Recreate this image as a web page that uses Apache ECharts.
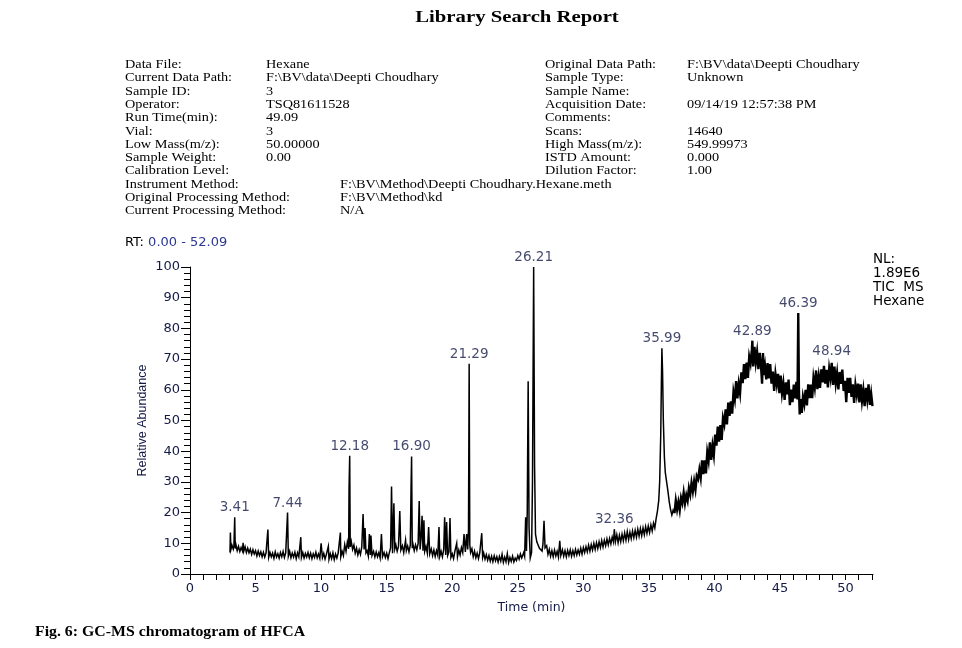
<!DOCTYPE html>
<html>
<head>
<meta charset="utf-8">
<script src="https://cdn.jsdelivr.net/npm/echarts@6/dist/echarts.min.js"></script>
<style>
html,body{margin:0;padding:0;background:#fff;}
#c{width:962px;height:648px;}
</style>
</head>
<body>
<div id="c"></div>
<script>
// ---- Data (time in min, relative abundance %) ----
// Early part: baseline with sharp peaks (3 - 37 min)
const ticEarly = [
[3.05,7.0],[3.08,13.5],[3.12,8.0],[3.2,9.4],[3.3,8.1],[3.35,9.2],[3.41,18.5],[3.45,8.3],[3.5,9.6],[3.6,7.6],[3.7,9.0],[3.8,7.3],[3.9,8.6],[4.0,7.5],[4.05,10.2],[4.1,7.4],[4.2,8.9],[4.3,7.0],[4.4,8.4],[4.5,6.9],[4.6,8.1],[4.7,6.4],[4.8,7.9],[4.9,6.5],[5.0,7.6],[5.1,5.9],[5.2,7.5],[5.3,6.0],[5.4,7.2],[5.5,5.6],[5.6,7.1],[5.7,5.5],[5.8,6.9],[5.94,14.5],[6.0,5.4],[6.1,7.0],[6.2,5.6],[6.3,6.8],[6.4,5.1],[6.5,7.2],[6.6,5.5],[6.7,6.6],[6.8,5.2],[6.9,7.0],[7.0,5.6],[7.1,7.3],[7.2,5.4],[7.3,6.9],[7.44,20.0],[7.5,5.8],[7.6,7.4],[7.7,5.3],[7.8,6.8],[7.9,5.5],[8.0,7.1],[8.1,5.0],[8.2,6.9],[8.3,5.6],[8.45,12.0],[8.5,5.4],[8.6,7.0],[8.7,5.2],[8.8,6.7],[8.9,5.5],[9.0,7.0],[9.1,5.3],[9.2,6.8],[9.3,5.0],[9.4,6.6],[9.5,5.4],[9.6,7.1],[9.7,5.2],[9.8,6.5],[9.9,5.1],[10.0,10.0],[10.1,5.3],[10.2,6.7],[10.3,4.9],[10.4,6.4],[10.55,9.0],[10.6,4.8],[10.7,6.6],[10.8,5.0],[10.9,6.9],[11.0,4.7],[11.1,6.5],[11.2,5.2],[11.3,6.8],[11.47,13.5],[11.5,5.6],[11.6,7.4],[11.7,6.0],[11.8,9.6],[11.9,7.4],[12.0,10.4],[12.1,8.2],[12.13,28.0],[12.18,38.5],[12.22,8.8],[12.3,10.6],[12.4,8.0],[12.5,9.4],[12.6,6.8],[12.7,8.4],[12.8,6.2],[12.9,7.9],[13.0,6.4],[13.1,8.8],[13.2,19.5],[13.28,8.0],[13.35,15.0],[13.42,6.9],[13.5,7.6],[13.6,5.8],[13.68,13.0],[13.75,6.2],[13.8,12.5],[13.88,6.0],[14.0,7.4],[14.1,5.5],[14.2,7.2],[14.3,5.6],[14.4,6.9],[14.5,5.2],[14.6,13.0],[14.68,5.6],[14.8,7.0],[14.9,5.4],[15.0,6.8],[15.1,5.0],[15.2,6.9],[15.3,8.5],[15.37,28.5],[15.45,6.8],[15.55,23.0],[15.62,8.2],[15.7,9.5],[15.8,7.4],[15.9,9.0],[16.0,20.5],[16.08,7.8],[16.2,9.2],[16.3,7.0],[16.44,11.0],[16.5,7.6],[16.6,9.1],[16.7,7.2],[16.8,9.4],[16.86,28.5],[16.90,38.3],[16.95,8.4],[17.0,9.8],[17.1,7.6],[17.2,9.5],[17.3,7.9],[17.4,10.0],[17.48,23.8],[17.55,8.0],[17.62,11.5],[17.7,19.0],[17.77,7.6],[17.84,17.5],[17.9,7.4],[18.0,9.0],[18.1,6.8],[18.2,15.3],[18.28,6.5],[18.4,8.2],[18.5,6.0],[18.6,7.8],[18.7,5.7],[18.8,7.6],[18.9,6.0],[18.99,15.3],[19.05,5.8],[19.15,7.4],[19.25,5.6],[19.35,8.0],[19.42,18.5],[19.5,6.2],[19.57,16.9],[19.65,6.0],[19.75,7.2],[19.83,18.2],[19.9,5.4],[20.0,6.6],[20.1,5.0],[20.2,7.4],[20.34,10.0],[20.4,5.6],[20.5,7.8],[20.6,6.2],[20.7,8.6],[20.8,7.0],[20.9,13.0],[21.0,7.2],[21.1,13.0],[21.18,8.0],[21.24,14.5],[21.29,68.5],[21.34,9.5],[21.4,7.0],[21.5,8.2],[21.6,5.6],[21.7,7.4],[21.8,5.3],[21.9,6.8],[22.0,5.0],[22.1,7.0],[22.25,13.3],[22.32,5.4],[22.4,6.8],[22.5,4.8],[22.6,6.3],[22.7,4.5],[22.8,6.0],[22.9,4.2],[23.0,5.8],[23.1,4.0],[23.2,5.9],[23.3,4.3],[23.4,5.6],[23.5,3.9],[23.6,5.7],[23.7,4.2],[23.8,6.4],[23.9,3.8],[24.0,5.5],[24.1,4.0],[24.2,6.6],[24.3,3.7],[24.4,5.4],[24.5,4.1],[24.6,5.8],[24.7,3.9],[24.8,5.2],[24.9,4.4],[25.0,6.0],[25.1,4.8],[25.2,6.5],[25.3,5.2],[25.45,7.0],[25.52,5.8],[25.6,18.5],[25.66,7.5],[25.72,20.0],[25.79,62.8],[25.86,15.0],[25.95,5.2],[26.05,7.0],[26.12,30.0],[26.21,100],[26.28,35.0],[26.35,13.0],[26.45,10.5],[26.55,11.0],[26.65,8.4],[26.75,9.0],[26.85,7.5],[26.92,9.8],[27.0,17.3],[27.08,8.5],[27.2,9.2],[27.3,6.4],[27.4,8.0],[27.5,5.8],[27.6,7.6],[27.7,5.6],[27.8,7.8],[27.9,5.9],[28.0,7.4],[28.1,5.5],[28.2,10.8],[28.28,6.0],[28.4,7.9],[28.5,5.8],[28.6,7.6],[28.7,5.6],[28.8,7.7],[28.9,6.0],[29.0,7.9],[29.1,5.8],[29.2,7.6],[29.3,6.0],[29.4,8.0],[29.5,6.2],[29.6,7.8],[29.7,6.4],[29.8,8.4],[29.9,6.5],[30.0,8.6],[30.1,7.0],[30.2,8.9],[30.3,7.2],[30.4,9.4],[30.5,7.4],[30.6,9.6],[30.7,7.8],[30.8,10.0],[30.9,8.0],[31.0,10.2],[31.1,8.3],[31.2,10.5],[31.3,8.6],[31.4,10.9],[31.5,8.8],[31.6,11.0],[31.7,9.2],[31.8,11.4],[31.9,9.5],[32.0,11.6],[32.1,9.8],[32.2,12.0],[32.3,10.4],[32.36,14.6],[32.45,10.6],[32.55,12.8],[32.65,10.2],[32.75,12.6],[32.85,10.5],[32.95,13.0],[33.05,10.8],[33.15,13.4],[33.25,11.0],[33.35,13.8],[33.45,11.2],[33.55,13.6],[33.65,11.5],[33.75,14.0],[33.85,11.8],[33.95,14.2],[34.05,12.0],[34.15,14.6],[34.25,12.3],[34.35,14.8],[34.45,12.5],[34.55,15.0],[34.65,12.8],[34.75,15.4],[34.85,13.2],[34.95,15.6],[35.05,13.5],[35.15,16.0],[35.25,14.0],[35.35,16.6],[35.45,15.0],[35.55,18.0],[35.65,20.5],[35.75,24.0],[35.82,30.0],[35.9,45.0],[35.95,62.0],[35.99,73.5],[36.04,66.0],[36.1,50.0],[36.18,38.0],[36.25,33.0],[36.35,30.0],[36.45,27.0],[36.55,23.5],[36.65,21.0],[36.75,19.2],[36.85,20.8],[36.95,19.8]
];
// Late part: broad rising hump with noise (37 - 52.09 min)
const ticLate = [
[36.95,19.8],[37.05,23.9],[37.15,21.0],[37.25,23.5],[37.35,20.8],[37.45,24.8],[37.55,23.1],[37.65,26.5],[37.75,23.0],[37.85,25.7],[37.95,23.9],[38.05,28.0],[38.15,25.9],[38.25,29.7],[38.35,26.9],[38.45,30.2],[38.55,27.5],[38.65,31.9],[38.75,30.9],[38.85,34.0],[38.95,31.3],[39.05,37.0],[39.15,32.5],[39.25,37.0],[39.35,32.8],[39.45,39.7],[39.55,37.0],[39.65,42.9],[39.75,37.2],[39.85,41.8],[39.95,38.7],[40.05,45.4],[40.15,41.8],[40.25,48.0],[40.35,43.1],[40.45,48.5],[40.55,43.7],[40.65,50.8],[40.75,48.8],[40.85,53.6],[40.95,48.7],[41.05,55.8],[41.15,51.5],[41.25,56.2],[41.35,52.2],[41.45,59.3],[41.55,56.8],[41.65,62.8],[41.75,57.2],[41.85,61.9],[41.95,58.9],[42.05,65.7],[42.15,62.2],[42.25,68.4],[42.35,63.5],[42.45,68.9],[42.55,63.9],[42.65,70.8],[42.75,68.6],[42.85,73.0],[42.89,76.0],[42.95,67.6],[43.05,74.0],[43.15,68.9],[43.25,72.3],[43.35,66.7],[43.45,72.0],[43.55,67.7],[43.63,62.0],[43.7,72.0],[43.75,64.8],[43.85,67.9],[43.95,63.4],[44.05,68.7],[44.15,63.7],[44.25,68.4],[44.35,62.0],[44.45,65.9],[44.55,59.6],[44.65,65.2],[44.75,61.8],[44.85,65.2],[44.95,58.9],[45.05,64.6],[45.15,58.9],[45.25,62.1],[45.35,56.7],[45.45,62.4],[45.55,58.5],[45.65,63.3],[45.75,55.0],[45.85,60.1],[45.95,56.0],[46.05,61.7],[46.15,57.2],[46.25,62.6],[46.33,56.9],[46.39,85.0],[46.44,60.0],[46.5,52.0],[46.58,57.0],[46.66,52.5],[46.75,57.7],[46.85,55.4],[46.95,60.0],[47.05,54.9],[47.15,61.8],[47.25,57.3],[47.35,61.7],[47.45,57.3],[47.55,63.9],[47.65,60.8],[47.75,66.3],[47.85,60.2],[47.95,64.3],[48.05,60.6],[48.15,66.7],[48.25,62.4],[48.35,67.8],[48.45,62.0],[48.55,66.5],[48.65,60.8],[48.75,66.9],[48.85,63.9],[48.94,68.8],[49.05,61.6],[49.15,67.6],[49.25,62.1],[49.35,65.5],[49.45,60.1],[49.55,65.8],[49.65,61.9],[49.75,66.6],[49.85,59.6],[49.95,62.9],[50.05,56.0],[50.15,63.9],[50.25,59.0],[50.35,63.9],[50.45,57.7],[50.55,61.8],[50.65,55.7],[50.75,61.6],[50.85,58.4],[50.95,62.0],[51.05,55.9],[51.15,61.8],[51.25,56.4],[51.35,59.9],[51.45,54.7],[51.55,60.6],[51.65,56.9],[51.75,61.8],[51.85,55.1],[51.95,58.7],[52.05,54.7]
];

// Labelled peaks: retention time and the height where its label sits
const peakTimes = [3.41, 7.44, 12.18, 16.90, 21.29, 26.21, 32.36, 35.99, 42.89, 46.39, 48.94];
const peakTops  = [18.5, 20.0, 38.5, 38.3, 68.5, 100, 14.6, 73.5, 76.0, 85.0, 69.5];

// Report header text
const headerLeft = [
  ["Data File:", "Hexane"],
  ["Current Data Path:", "F:\\BV\\data\\Deepti Choudhary"],
  ["Sample ID:", "3"],
  ["Operator:", "TSQ81611528"],
  ["Run Time(min):", "49.09"],
  ["Vial:", "3"],
  ["Low Mass(m/z):", "50.00000"],
  ["Sample Weight:", "0.00"],
  ["Calibration Level:", ""]
];
const headerLeftWide = [
  ["Instrument Method:", "F:\\BV\\Method\\Deepti Choudhary.Hexane.meth"],
  ["Original Processing Method:", "F:\\BV\\Method\\kd"],
  ["Current Processing Method:", "N/A"]
];
const headerRight = [
  ["Original Data Path:", "F:\\BV\\data\\Deepti Choudhary"],
  ["Sample Type:", "Unknown"],
  ["Sample Name:", ""],
  ["Acquisition Date:", "09/14/19 12:57:38 PM"],
  ["Comments:", ""],
  ["Scans:", "14640"],
  ["High Mass(m/z):", "549.99973"],
  ["ISTD Amount:", "0.000"],
  ["Dilution Factor:", "1.00"]
];
const nlLines = ["NL:", "1.89E6", "TIC  MS", "Hexane"];

// ---- Build ----
const chart = echarts.init(document.getElementById('c'), null, {renderer: 'canvas'});
const navy = '#141a48';
const serif = "'Liberation Serif','Times New Roman',serif";
const sans = "'DejaVu Sans',sans-serif";

const graphics = [];
function txt(x, y, s, opt) {
  opt = opt || {};
  graphics.push({
    type: 'text', x: x, y: y, scaleX: opt.scaleX || 1, z: 10,
    style: {
      text: s, fill: opt.fill || '#000',
      font: opt.font || ('12px ' + serif),
      textVerticalAlign: 'middle', verticalAlign: 'middle',
      textAlign: opt.align || 'left', align: opt.align || 'left'
    }
  });
}
const rowY0 = 65, rowStep = 13.27, hdrScale = 1.19;
headerLeft.forEach((r, i) => {
  txt(125, rowY0 + i * rowStep, r[0], {scaleX: hdrScale});
  txt(266, rowY0 + i * rowStep, r[1], {scaleX: hdrScale});
});
headerLeftWide.forEach((r, i) => {
  const k = headerLeft.length + i;
  txt(125, rowY0 + k * rowStep, r[0], {scaleX: hdrScale});
  txt(340, rowY0 + k * rowStep, r[1], {scaleX: hdrScale});
});
headerRight.forEach((r, i) => {
  txt(545, rowY0 + i * rowStep, r[0], {scaleX: hdrScale});
  txt(687, rowY0 + i * rowStep, r[1], {scaleX: hdrScale});
});
// Title
graphics.push({
  type: 'text', x: 517, y: 18, scaleX: 1.22, z: 10,
  style: {text: 'Library Search Report', fill: '#000', font: 'bold 17px ' + serif,
          align: 'center', verticalAlign: 'middle', textAlign: 'center', textVerticalAlign: 'middle'}
});
// Caption
txt(35, 632, 'Fig. 6: GC-MS chromatogram of HFCA', {font: 'bold 15.5px ' + serif, scaleX: 1.02});
// RT range
graphics.push({
  type: 'text', x: 125, y: 243, z: 10,
  style: {
    text: '{a|RT:} {b|0.00 - 52.09}',
    rich: {a: {fill: '#000', font: '13px ' + sans}, b: {fill: '#2b3790', font: '13px ' + sans}},
    font: '13px ' + sans, verticalAlign: 'middle', textVerticalAlign: 'middle'
  }
});
// NL block
nlLines.forEach((s, i) => txt(873, 259 + i * 14, s, {font: '13.5px ' + sans, fill: '#000'}));

const option = {
  animation: false,
  backgroundColor: '#ffffff',
  grid: {left: 190, top: 267, width: 683, height: 307, containLabel: false},
  xAxis: {
    type: 'value', min: 0, max: 52.09, interval: 1,
    name: 'Time (min)', nameLocation: 'middle', nameGap: 27,
    nameTextStyle: {fontFamily: 'DejaVu Sans', fontSize: 12.5, color: navy},
    axisLine: {show: true, onZero: false, lineStyle: {color: '#000', width: 1}},
    axisTick: {show: true, length: 6, lineStyle: {color: '#000', width: 1}},
    axisLabel: {
      fontFamily: 'DejaVu Sans', fontSize: 13, color: navy, margin: 8,
      showMaxLabel: false, showMinLabel: true,
      formatter: function (v) { return Math.abs(v / 5 - Math.round(v / 5)) < 1e-6 ? String(Math.round(v)) : ''; }
    },
    splitLine: {show: false}
  },
  yAxis: {
    type: 'value', min: 0, max: 100, interval: 10,
    name: 'Relative Abundance', nameLocation: 'middle', nameGap: 41, nameRotate: 90,
    nameMoveOverlap: false,
    nameTextStyle: {fontFamily: 'Liberation Sans', fontSize: 12.5, color: navy},
    axisLine: {show: true, onZero: false, lineStyle: {color: '#000', width: 1}},
    axisTick: {show: true, length: 9, lineStyle: {color: '#000', width: 1}},
    minorTick: {show: true, splitNumber: 5, length: 6, lineStyle: {color: '#000', width: 1}},
    axisLabel: {fontFamily: 'DejaVu Sans', fontSize: 13, color: navy, margin: 10},
    splitLine: {show: false}
  },
  series: [
    {
      type: 'line', data: ticEarly, showSymbol: false, symbol: 'none', sampling: null,
      lineStyle: {color: '#000', width: 1.5, join: 'miter'}, z: 2, silent: true
    },
    {
      type: 'line', data: ticLate, showSymbol: false, symbol: 'none', sampling: null,
      lineStyle: {color: '#000', width: 2.4, join: 'miter'}, z: 2, silent: true
    },
    {
      type: 'scatter', symbolSize: 1, z: 3, silent: true,
      itemStyle: {color: 'rgba(0,0,0,0)'},
      data: peakTimes.map((t, i) => [t, peakTops[i]]),
      label: {
        show: true, position: 'top', distance: 2,
        fontFamily: 'DejaVu Sans', fontSize: 13.5, color: navy,
        formatter: function (p) { return p.value[0].toFixed(2); }
      }
    }
  ],
  graphic: graphics
};
chart.setOption(option);
</script>
</body>
</html>
